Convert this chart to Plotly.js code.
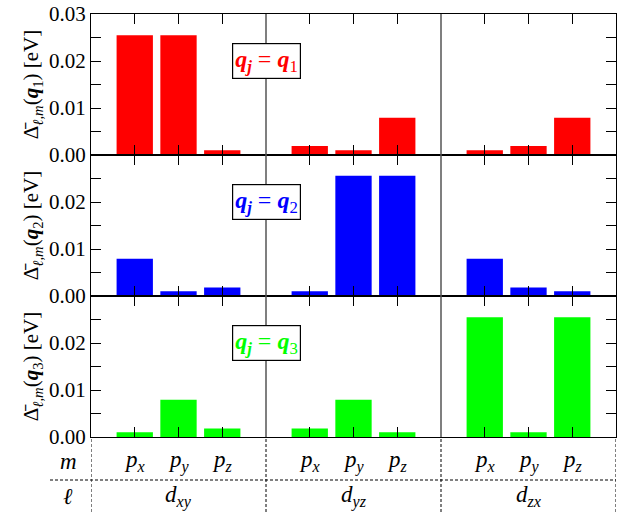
<!DOCTYPE html>
<html>
<head>
<meta charset="utf-8">
<script src="https://cdn.plot.ly/plotly-3.0.1.min.js"></script>
</head>
<body style="margin:0">
<div id="chart"></div>
<script>
// ---- data ----
const ellLabels = ['d<sub>xy</sub>', 'd<sub>yz</sub>', 'd<sub>zx</sub>'];
const mLabels = ['p<sub>x</sub>', 'p<sub>y</sub>', 'p<sub>z</sub>'];
const qNames = ['1', '2', '3'];
const q1Values = [0.0255, 0.0255, 0.0010, 0.0019, 0.0010, 0.0079, 0.0010, 0.0019, 0.0079];
const q2Values = [0.0079, 0.0010, 0.0018, 0.0010, 0.0256, 0.0256, 0.0079, 0.0018, 0.0010];
const q3Values = [0.0010, 0.0079, 0.0018, 0.0018, 0.0079, 0.0010, 0.0255, 0.0010, 0.0255];
const seriesColors = ['#ff0000', '#0000ff', '#00ff00'];
const yTickVals = [0, 0.005, 0.01, 0.015, 0.02, 0.025, 0.03];
const yTickTextTop = ['0.00', '', '0.01', '', '0.02', '', '0.03'];
const yTickTextOther = ['0.00', '', '0.01', '', '0.02', '', ''];

// ---- build ----
const allValues = [q1Values, q2Values, q3Values];
const xPos = [];
for (let g = 0; g < 3; g++) for (let k = 0; k < 3; k++) xPos.push(g * 4 + k + 1);

const FF = 'Liberation Serif';
const traces = [];
allValues.forEach((vals, i) => {
  const n = i === 0 ? '' : String(i + 1);
  traces.push({
    type: 'bar', x: xPos, y: vals, width: 0.83,
    marker: {color: seriesColors[i]},
    xaxis: 'x' + n, yaxis: 'y' + n, showlegend: false, hoverinfo: 'skip'
  });
});

const plotTop = 14, plotBot = 437, H = 512, W = 633, L = 91, R = 17;
const ph = plotBot - plotTop;

const layout = {
  width: W, height: H,
  margin: {l: L, r: R, t: plotTop, b: H - plotBot},
  font: {family: FF},
  showlegend: false,
  shapes: [], annotations: []
};

for (let i = 0; i < 3; i++) {
  const n = i === 0 ? '' : String(i + 1);
  const d0 = 1 - (i + 1) / 3, d1 = 1 - i / 3;
  layout['xaxis' + n] = {
    anchor: 'y' + n, range: [0, 12], domain: [0, 1],
    tickvals: xPos, showticklabels: false,
    ticks: 'inside', ticklen: 10, tickwidth: 1.2, tickcolor: '#000',
    showline: true, linecolor: '#000', linewidth: 1.2, mirror: 'ticks',
    showgrid: false, zeroline: false
  };
  layout['yaxis' + n] = {
    anchor: 'x' + n, domain: [d0, d1], range: [0, 0.03],
    tickvals: yTickVals, ticktext: i === 0 ? yTickTextTop : yTickTextOther,
    ticks: 'inside', ticklen: 10, tickwidth: 1.2, tickcolor: '#000',
    tickfont: {family: FF, size: 21, color: '#000'},
    showline: true, linecolor: '#000', linewidth: 1.2, mirror: 'ticks',
    showgrid: false, zeroline: false,
    title: {
      text: 'Δ\u0304<sub><i>ℓ,m</i></sub>(<b><i>q</i></b><sub>' + qNames[i] + '</sub>) [eV]',
      font: {family: FF, size: 21, color: '#000'}, standoff: 4
    }
  };
  layout.annotations.push({
    xref: 'x' + n, yref: 'y' + n, x: 4, y: 0.02, xanchor: 'center', yanchor: 'middle',
    text: '<b><i>q</i></b><sub><b><i>j</i></b></sub> = <b><i>q</i></b><sub>' + qNames[i] + '</sub>',
    showarrow: false, font: {family: FF, size: 24, color: seriesColors[i]},
    bgcolor: '#fff', bordercolor: '#000', borderwidth: 1.2, borderpad: 2
  });
}

[4, 8].forEach(xv => {
  layout.shapes.push({type: 'line', xref: 'x3', yref: 'paper', x0: xv, x1: xv, y0: 0, y1: 1,
    line: {color: '#555', width: 1.5}, layer: 'above'});
});
const yPaper = py => (plotBot - py) / ph;
const xPaper = px => (px - L) / (W - L - R);
[0, 4, 8, 12].forEach(xv => {
  layout.shapes.push({type: 'line', xref: 'x3', yref: 'paper', x0: xv, x1: xv,
    y0: yPaper(H), y1: 0, line: {color: '#000', width: 1, dash: '3px,2px'}});
});
layout.shapes.push({type: 'line', xref: 'paper', yref: 'paper', x0: xPaper(50), x1: 1,
  y0: yPaper(480), y1: yPaper(480), line: {color: '#000', width: 1, dash: '3px,2px'}});

xPos.forEach((xv, j) => {
  layout.annotations.push({xref: 'x3', yref: 'paper', x: xv, y: yPaper(461),
    xanchor: 'center', yanchor: 'middle',
    text: '<i>' + mLabels[j % 3] + '</i>', showarrow: false,
    font: {family: FF, size: 23, color: '#000'}});
});
ellLabels.forEach((t, g) => {
  layout.annotations.push({xref: 'x3', yref: 'paper', x: g * 4 + 2, y: yPaper(496),
    xanchor: 'center', yanchor: 'middle',
    text: '<i>' + t + '</i>', showarrow: false, font: {family: FF, size: 23, color: '#000'}});
});
layout.annotations.push({xref: 'paper', yref: 'paper', x: xPaper(68), y: yPaper(461),
  xanchor: 'center', yanchor: 'middle',
  text: '<i>m</i>', showarrow: false, font: {family: FF, size: 23, color: '#000'}});
layout.annotations.push({xref: 'paper', yref: 'paper', x: xPaper(68), y: yPaper(496),
  xanchor: 'center', yanchor: 'middle',
  text: '<i>ℓ</i>', showarrow: false, font: {family: FF, size: 23, color: '#000'}});

Plotly.newPlot('chart', traces, layout, {displayModeBar: false});
</script>
</body>
</html>
